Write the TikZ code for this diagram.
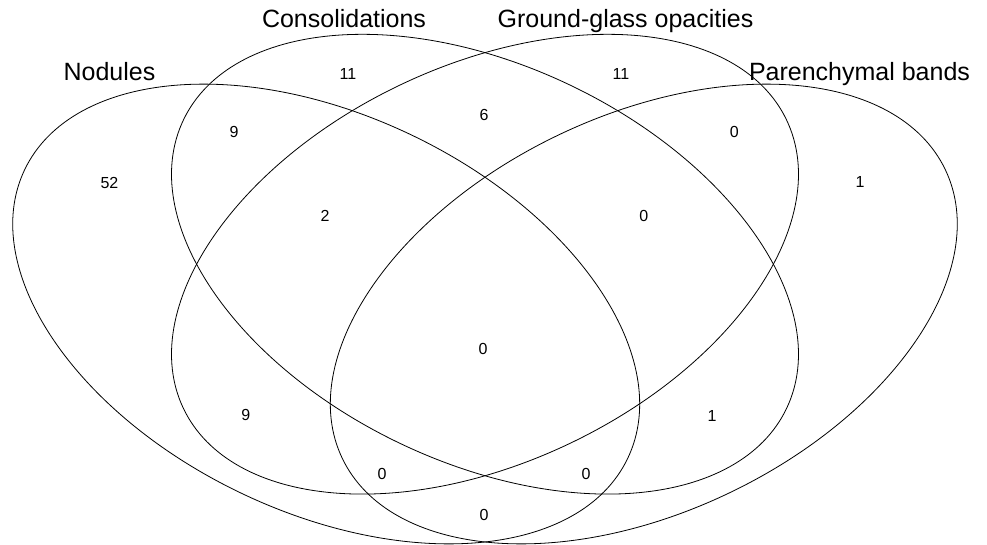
\documentclass[tikz,border=0pt]{standalone}
\usepackage{fontspec}
\setmainfont{Liberation Sans}
\begin{document}
\begin{tikzpicture}[x=1pt,y=1pt,
  setline/.style={draw=black, line width=0.8pt},
  setlabel/.style={font=\fontsize{25}{30}\selectfont, anchor=base, inner sep=0pt},
  count/.style={font=\fontsize{16}{19}\selectfont, inner sep=0pt}]
\useasboundingbox (0,0) rectangle (987,544);
\coordinate (cN) at (326.2,230);
\coordinate (cM) at (485,279.8);
\coordinate (cP) at (643.8,230);
% ellipses
\draw[setline, rotate around={-25.6:(cN)}] (cN) ellipse [x radius=334.3, y radius=198.3];
\draw[setline, rotate around={-25.6:(cM)}] (cM) ellipse [x radius=334.3, y radius=198.3];
\draw[setline, rotate around={25.6:(cM)}] (cM) ellipse [x radius=334.3, y radius=198.3];
\draw[setline, rotate around={25.6:(cP)}] (cP) ellipse [x radius=334.3, y radius=198.3];
% set labels
\node[setlabel] (lN) at (109.5,463.5) {Nodules};
\node[setlabel] (lC) at (344,516) {Consolidations};
\node[setlabel] (lG) at (625.5,516) {Ground-glass opacities};
\node[setlabel] (lP) at (859.5,463.5) {Parenchymal bands};
% counts
\node[count] (n1) at (109.5,361.5) {52};
\node[count] (n2) at (348,470) {11};
\node[count] (n3) at (234,412) {9};
\node[count] (n4) at (484,429) {6};
\node[count] (n5) at (325,328) {2};
\node[count] (n6) at (621,470) {11};
\node[count] (n7) at (734.3,412) {0};
\node[count] (n8) at (860,362) {1};
\node[count] (n9) at (643.7,328) {0};
\node[count] (n10) at (483,195) {0};
\node[count] (n11) at (245.7,129) {9};
\node[count] (n12) at (382,70) {0};
\node[count] (n13) at (484,29) {0};
\node[count] (n14) at (712,128.3) {1};
\node[count] (n15) at (586,70) {0};
\end{tikzpicture}
\end{document}
